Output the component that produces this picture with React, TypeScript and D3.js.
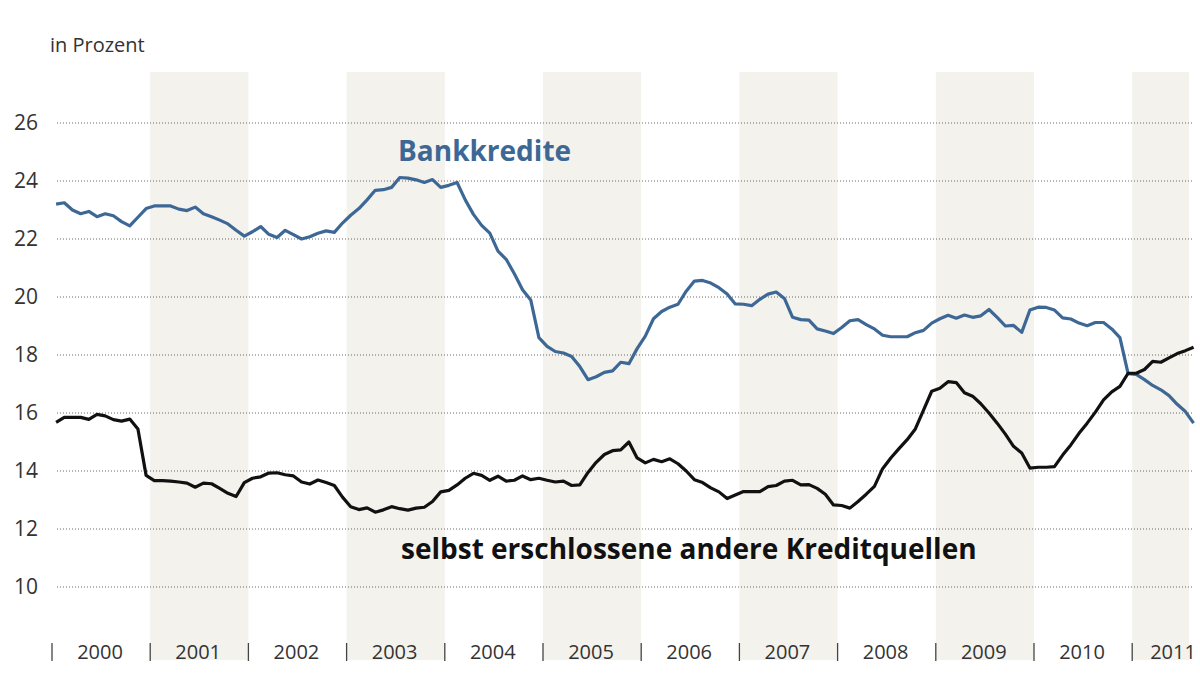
import React from "react";
import * as d3 from "d3";

const years = [2000, 2001, 2002, 2003, 2004, 2005, 2006, 2007, 2008, 2009, 2010, 2011];
const yTicks = [10, 12, 14, 16, 18, 20, 22, 24, 26];

// Monthly values, Jan 2000 .. Aug 2011
const bankkredite = [
  23.2, 23.25, 23.0, 22.87, 22.95, 22.77, 22.87, 22.8, 22.6, 22.45, 22.75, 23.05,
  23.14, 23.14, 23.14, 23.03, 22.98, 23.1, 22.87, 22.77, 22.65, 22.52, 22.3, 22.1,
  22.25, 22.43, 22.16, 22.05, 22.3, 22.15, 22.0, 22.08, 22.2, 22.28, 22.23, 22.55,
  22.82, 23.05, 23.35, 23.68, 23.7, 23.78, 24.12, 24.1, 24.04, 23.95, 24.05, 23.78,
  23.85, 23.95, 23.35, 22.85, 22.47, 22.2, 21.58, 21.3, 20.8, 20.25, 19.9, 18.6,
  18.3, 18.12, 18.07, 17.95, 17.6, 17.15, 17.25, 17.4, 17.45, 17.75, 17.7, 18.22,
  18.65, 19.25, 19.5, 19.65, 19.75, 20.2, 20.55, 20.57, 20.48, 20.32, 20.1, 19.76,
  19.75, 19.7, 19.92, 20.1, 20.17, 19.95, 19.3, 19.22, 19.2, 18.9, 18.83, 18.74,
  18.95, 19.18, 19.22, 19.05, 18.9, 18.68, 18.63, 18.63, 18.63, 18.77, 18.85, 19.1,
  19.25, 19.37, 19.27, 19.38, 19.3, 19.35, 19.57, 19.3, 19.0, 19.02, 18.78, 19.55,
  19.65, 19.64, 19.55, 19.28, 19.24, 19.1, 19.01, 19.12, 19.12, 18.9, 18.6, 17.36,
  17.33, 17.15, 16.95, 16.8, 16.6, 16.3, 16.05, 15.65,
];

const andereQuellen = [
  15.68, 15.85, 15.85, 15.85, 15.78, 15.95, 15.9, 15.77, 15.72, 15.79, 15.45, 13.85,
  13.67, 13.67, 13.65, 13.62, 13.58, 13.44, 13.58, 13.56, 13.4, 13.23, 13.12, 13.6,
  13.75, 13.8, 13.93, 13.94, 13.87, 13.83, 13.62, 13.55, 13.69, 13.6, 13.5, 13.1,
  12.77, 12.67, 12.73, 12.58, 12.66, 12.77, 12.7, 12.65, 12.72, 12.75, 12.95, 13.28,
  13.33, 13.52, 13.75, 13.92, 13.85, 13.68, 13.82, 13.65, 13.68, 13.83, 13.7, 13.75,
  13.68, 13.62, 13.65, 13.5, 13.52, 13.95, 14.3, 14.57, 14.7, 14.73, 15.0, 14.45,
  14.28, 14.4, 14.32, 14.42, 14.25, 14.0, 13.7, 13.6, 13.42, 13.28, 13.05, 13.17,
  13.29, 13.29, 13.29, 13.46, 13.5, 13.65, 13.68, 13.52, 13.53, 13.4, 13.2, 12.83,
  12.81, 12.72, 12.95, 13.2, 13.47, 14.08, 14.45, 14.77, 15.08, 15.45, 16.1, 16.75,
  16.85, 17.08, 17.05, 16.7, 16.58, 16.32, 16.0, 15.65, 15.27, 14.85, 14.62, 14.1,
  14.13, 14.13, 14.15, 14.55, 14.9, 15.3, 15.65, 16.03, 16.45, 16.73, 16.92, 17.37,
  17.37, 17.5, 17.78, 17.75, 17.9, 18.05, 18.15, 18.27,
];

const BLUE = "#3d6896";
const BAND = "#f3f2ed";
const FONT = "'Open Sans', 'Noto Sans', sans-serif";

export default function App() {
  const W = 1200;
  const H = 675;
  const x = d3.scaleLinear().domain([2000, 2012]).range([52, 52 + 12 * 98.2]);
  const y = d3.scaleLinear().domain([10, 26]).range([587, 123]);
  const t = (i: number) => 2000 + (i + 0.5) / 12;

  const line = d3
    .line<number>()
    .x((_, i) => x(t(i)))
    .y((d) => y(d))
    .curve(d3.curveLinear);

  const gridX0 = 57;
  const gridX1 = 1192;
  const bandTop = 72;
  const bandBottom = 660;

  return (
    <svg
      width={W}
      height={H}
      viewBox={`0 0 ${W} ${H}`}
      style={{ position: "absolute", left: 0, top: 0, background: "#fff" }}
    >
      <rect x={0} y={0} width={W} height={H} fill="#fff" />
      {years
        .filter((_, i) => i % 2 === 1)
        .map((yr) => (
          <rect
            key={"b" + yr}
            x={x(yr)}
            y={bandTop}
            width={Math.min(x(yr + 1), 1189) - x(yr)}
            height={bandBottom - bandTop}
            fill={BAND}
          />
        ))}
      <text x={50} y={52} fontFamily={FONT} fontSize={20} fill="#333">
        in Prozent
      </text>
      {yTicks.map((v) => (
        <g key={"g" + v}>
          <line
            x1={gridX0}
            x2={gridX1}
            y1={y(v)}
            y2={y(v)}
            stroke="#666"
            strokeWidth={1}
            strokeDasharray="1 2"
          />
          <text
            x={38}
            y={y(v) + 7}
            textAnchor="end"
            fontFamily={FONT}
            fontSize={21}
            fill="#333"
          >
            {v}
          </text>
        </g>
      ))}
      {years.map((yr) => (
        <g key={"y" + yr}>
          <line x1={x(yr)} x2={x(yr)} y1={643} y2={661} stroke="#444" strokeWidth={1.3} />
          <text
            x={Math.min(x(yr) + 48, 1173)}
            y={659}
            textAnchor="middle"
            fontFamily={FONT}
            fontSize={20}
            fill="#333"
          >
            {yr}
          </text>
        </g>
      ))}
      <path
        d={line(bankkredite) || ""}
        fill="none"
        stroke={BLUE}
        strokeWidth={3.2}
        strokeLinejoin="round"
      />
      <path
        d={line(andereQuellen) || ""}
        fill="none"
        stroke="#111"
        strokeWidth={3.2}
        strokeLinejoin="round"
      />
      <text x={398} y={161} fontFamily={FONT} fontWeight={700} fontSize={28} fill={BLUE}>
        Bankkredite
      </text>
      <text x={401} y={559} fontFamily={FONT} fontWeight={700} fontSize={28} fill="#111">
        selbst erschlossene andere Kreditquellen
      </text>
    </svg>
  );
}
